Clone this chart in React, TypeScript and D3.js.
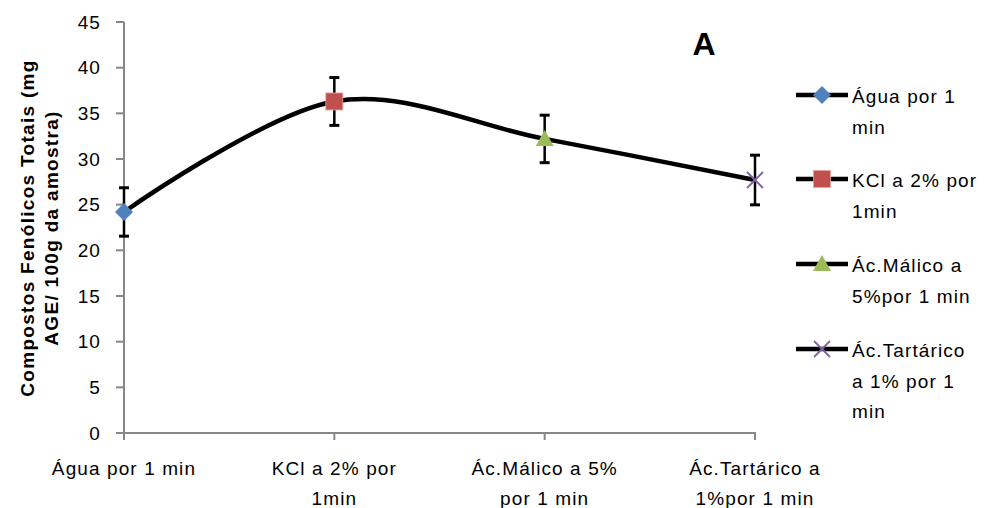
import React from "react";
import * as d3 from "d3";

const categories = ["Água por 1 min", "KCl a 2% por 1min", "Ác.Málico a 5% por 1 min", "Ác.Tartárico a 1%por 1 min"];
const categoryLines = [["Água por 1 min"], ["KCl a 2% por", "1min"], ["Ác.Málico a 5%", "por 1 min"], ["Ác.Tartárico a", "1%por 1 min"]];
const values = [24.2, 36.3, 32.2, 27.7];
const errors = [2.65, 2.62, 2.6, 2.72];
const yTicks = [0, 5, 10, 15, 20, 25, 30, 35, 40, 45];
const legendLines = [["Água por 1", "min"], ["KCl a 2% por", "1min"], ["Ác.Málico a", "5%por 1 min"], ["Ác.Tartárico", "a 1% por 1", "min"]];
const markerTypes = ["diamond", "square", "triangle", "x"];
const markerColors = ["#4F81BD", "#C0504D", "#9BBB59", "#8064A2"];

const FONT = "'Liberation Sans', Arial, sans-serif";
const FS = 19;
const LS = 1.1;

function Marker({ type, color, x, y }: { type: string; color: string; x: number; y: number }) {
  if (type === "diamond") {
    const r = 9;
    return <path d={`M${x},${y - r}L${x + r},${y}L${x},${y + r}L${x - r},${y}Z`} fill={color} />;
  }
  if (type === "square") {
    const s = 17;
    return <rect x={x - s / 2} y={y - s / 2} width={s} height={s} fill={color} stroke="#E6A19F" strokeWidth={0.8} />;
  }
  if (type === "triangle") {
    return <path d={`M${x},${y - 9}L${x + 9},${y + 7}L${x - 9},${y + 7}Z`} fill={color} />;
  }
  const r = 8;
  return (
    <path d={`M${x - r},${y - r}L${x + r},${y + r}M${x - r},${y + r}L${x + r},${y - r}`} stroke={color} strokeWidth={1.8} fill="none" />
  );
}

export default function App() {
  const width = 985;
  const height = 508;
  const x = d3.scalePoint<string>().domain(categories).range([124, 755]);
  const y = d3.scaleLinear().domain([0, 45]).range([433, 22]);
  const line = d3
    .line<number>()
    .x((_, i) => x(categories[i]) as number)
    .y((d) => y(d))
    .curve(d3.curveCardinal.tension(0));
  const axisColor = "#878787";

  return (
    <svg width={width} height={height} style={{ position: "absolute", left: 0, top: 0, background: "#fff" }} fontFamily={FONT}>
      <rect width={width} height={height} fill="#fff" />
      {/* Y axis */}
      <line x1={124} x2={124} y1={y(45)} y2={y(0)} stroke={axisColor} strokeWidth={2} />
      {yTicks.map((t) => (
        <g key={t}>
          <line x1={116} x2={124} y1={y(t)} y2={y(t)} stroke={axisColor} strokeWidth={2} />
          <text x={101} y={y(t)} dy="0.35em" textAnchor="end" fontSize={FS} letterSpacing={LS} fill="#000">
            {t}
          </text>
        </g>
      ))}
      {/* X axis */}
      <line x1={124} x2={756} y1={y(0)} y2={y(0)} stroke={axisColor} strokeWidth={2} />
      {categories.map((c, i) => (
        <g key={c}>
          <line x1={x(c)} x2={x(c)} y1={y(0)} y2={y(0) + 7} stroke={axisColor} strokeWidth={2} />
          {categoryLines[i].map((l, j) => (
            <text key={j} x={x(c)} y={475 + j * 30} textAnchor="middle" fontSize={FS} letterSpacing={LS} fill="#000">
              {l}
            </text>
          ))}
        </g>
      ))}
      {/* Y title */}
      <g transform="translate(0,228) rotate(-90)">
        <text x={0} y={34} textAnchor="middle" fontSize={FS} fontWeight="bold" letterSpacing={1.3} fill="#000">
          Compostos Fenólicos Totais (mg
        </text>
        <text x={0} y={58} textAnchor="middle" fontSize={FS} fontWeight="bold" letterSpacing={1.3} fill="#000">
          AGE/ 100g da amostra)
        </text>
      </g>
      {/* line */}
      <path d={line(values) || ""} fill="none" stroke="#000" strokeWidth={4.5} />
      {/* error bars */}
      {values.map((v, i) => {
        const cx = x(categories[i]) as number;
        return (
          <g key={i} stroke="#000" strokeWidth={2.5}>
            <line x1={cx} x2={cx} y1={y(v - errors[i])} y2={y(v + errors[i])} />
            <line x1={cx - 5} x2={cx + 5} y1={y(v - errors[i])} y2={y(v - errors[i])} strokeWidth={3} />
            <line x1={cx - 5} x2={cx + 5} y1={y(v + errors[i])} y2={y(v + errors[i])} strokeWidth={3} />
          </g>
        );
      })}
      {values.map((v, i) => (
        <Marker key={i} type={markerTypes[i]} color={markerColors[i]} x={x(categories[i]) as number} y={y(v)} />
      ))}
      {/* Panel letter */}
      <text x={704} y={55} textAnchor="middle" fontSize={32} fontWeight="bold" fill="#000">
        A
      </text>
      {/* Legend */}
      {legendLines.map((lines, i) => {
        const ly = [95, 179, 264, 349][i];
        return (
          <g key={i}>
            <line x1={796} x2={848} y1={ly} y2={ly} stroke="#000" strokeWidth={4.5} />
            <Marker type={markerTypes[i]} color={markerColors[i]} x={822} y={ly} />
            {lines.map((l, j) => (
              <text key={j} x={852} y={ly + 8 + j * 30.5} fontSize={FS} letterSpacing={LS} fill="#000">
                {l}
              </text>
            ))}
          </g>
        );
      })}
    </svg>
  );
}
